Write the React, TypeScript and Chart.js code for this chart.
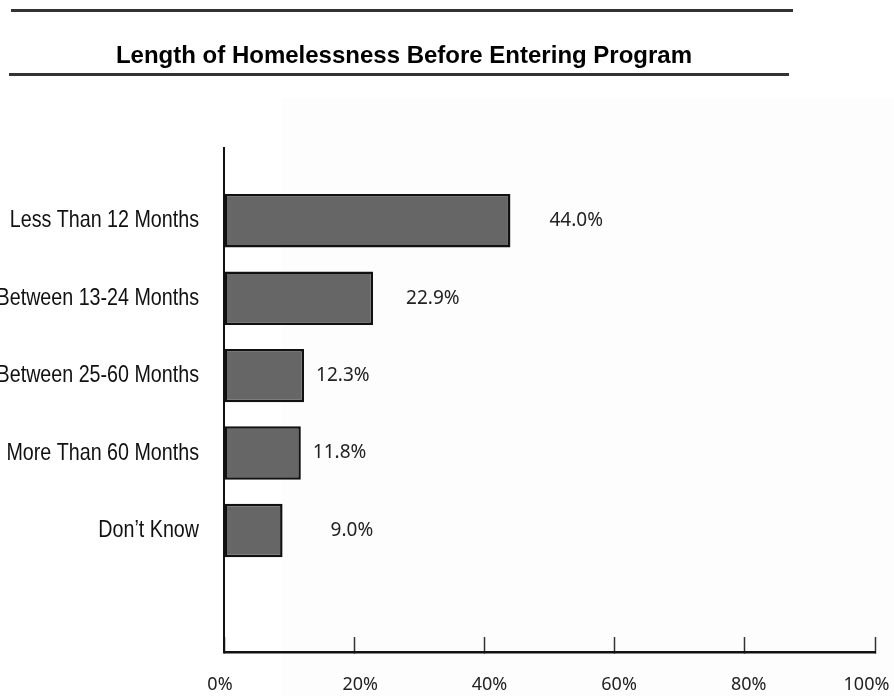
import { useEffect, useRef } from "react";
import { Chart, registerables } from "chart.js";

Chart.register(...registerables);

// ---------- data ----------
const chartTitle = "Length of Homelessness Before Entering Program";
const categories = [
  "Less Than 12 Months",
  "Between 13-24 Months",
  "Between 25-60 Months",
  "More Than 60 Months",
  "Don\u2019t Know",
];
const values = [44.0, 22.9, 12.3, 11.8, 9.0];
const valueLabels = ["44.0%", "22.9%", "12.3%", "11.8%", "9.0%"];
const xTickValues = [0, 20, 40, 60, 80, 100];
const xTickLabels = ["0%", "20%", "40%", "60%", "80%", "100%"];

// ---------- style ----------
const valueLabelGap = [39, 33, 12, 12, 48];
const xLabelShift = [-4, 6, 5, 4.5, 4, -8.5];
const labelFont = "'Liberation Sans', Arial, sans-serif";
const humanistFont = "'Noto Sans', 'Open Sans', sans-serif";

const decorPlugin = {
  id: "decor",
  beforeDraw(chart: any) {
    const ctx = chart.ctx;
    ctx.save();
    ctx.fillStyle = "#fdfdfd";
    ctx.fillRect(282, 98, 612, 598);
    ctx.strokeStyle = "#333333";
    ctx.lineWidth = 3;
    ctx.beginPath();
    ctx.moveTo(11, 10.5);
    ctx.lineTo(793, 10.5);
    ctx.stroke();
    ctx.beginPath();
    ctx.moveTo(9, 74.5);
    ctx.lineTo(789, 74.5);
    ctx.stroke();
    ctx.fillStyle = "#000000";
    ctx.font = `bold 24px ${labelFont}`;
    ctx.textAlign = "center";
    ctx.textBaseline = "alphabetic";
    ctx.fillText(chartTitle, 404, 63);
    ctx.restore();
  },
  afterDraw(chart: any) {
    const ctx = chart.ctx;
    const yScale = chart.scales.y;
    const xScale = chart.scales.x;
    ctx.save();
    // category labels (condensed)
    ctx.fillStyle = "#111111";
    ctx.font = `24px ${labelFont}`;
    ctx.textAlign = "right";
    ctx.textBaseline = "middle";
    categories.forEach((c, i) => {
      const y = yScale.getPixelForValue(i + 1);
      ctx.save();
      ctx.translate(yScale.right - 25, y);
      ctx.scale(0.82, 1);
      ctx.fillText(c, 0, 0);
      ctx.restore();
    });
    // x tick labels
    ctx.fillStyle = "#222222";
    ctx.font = `18px ${humanistFont}`;
    ctx.textAlign = "center";
    ctx.textBaseline = "middle";
    xTickValues.forEach((v, i) => {
      ctx.fillText(xTickLabels[i], xScale.getPixelForValue(v) + xLabelShift[i], xScale.top + 33);
    });
    ctx.restore();
  },
  afterDatasetsDraw(chart: any) {
    const ctx = chart.ctx;
    const meta = chart.getDatasetMeta(0);
    ctx.save();
    ctx.fillStyle = "#222222";
    ctx.font = `19px ${humanistFont}`;
    ctx.textAlign = "left";
    ctx.textBaseline = "middle";
    meta.data.forEach((el: any, i: number) => {
      ctx.fillText(valueLabels[i], el.x + valueLabelGap[i], el.y);
    });
    ctx.restore();
  },
};

export default function App() {
  const ref = useRef<HTMLCanvasElement | null>(null);

  useEffect(() => {
    if (!ref.current) return;
    const chart = new Chart(ref.current, {
      type: "bar",
      data: {
        datasets: [
          {
            data: values.map((v, i) => ({ x: v, y: i + 1 })),
            backgroundColor: "#666666",
            borderColor: "#111111",
            borderWidth: 2.5,
            borderSkipped: false,
            categoryPercentage: 1,
            barPercentage: 0.69,
          },
        ],
      },
      options: {
        indexAxis: "y",
        responsive: false,
        animation: false,
        layout: { padding: { top: 148, right: 19, bottom: 0, left: 0 } },
        plugins: {
          legend: { display: false },
          tooltip: { enabled: false },
          title: { display: false },
        },
        scales: {
          x: {
            type: "linear",
            position: "bottom",
            min: 0,
            max: 100,
            offset: false,
            afterBuildTicks: (axis: any) => {
              axis.ticks = xTickValues.map((v) => ({ value: v }));
            },
            afterFit: (axis: any) => {
              axis.height = 44;
              axis.paddingLeft = 0;
              axis.paddingRight = 0;
            },
            ticks: { display: false },
            grid: {
              drawOnChartArea: false,
              drawTicks: true,
              tickLength: -15,
              tickColor: "#333333",
              tickWidth: 1.5,
            },
            border: { display: true, color: "#111111", width: 2.5 },
          },
          y: {
            type: "linear",
            position: "left",
            reverse: true,
            offset: false,
            min: 0.06,
            max: 6.57,
            afterBuildTicks: (axis: any) => {
              axis.ticks = categories.map((_, i) => ({ value: i + 1 }));
            },
            afterFit: (axis: any) => {
              axis.width = 224;
              axis.paddingTop = 0;
              axis.paddingBottom = 0;
            },
            ticks: { display: false },
            grid: { display: false, drawTicks: false },
            border: { display: true, color: "#111111", width: 2 },
          },
        },
      },
      plugins: [decorPlugin],
    } as any);
    return () => chart.destroy();
  }, []);

  return (
    <div style={{ position: "fixed", left: 0, top: 0, width: 894, height: 696, background: "#ffffff" }}>
      <canvas ref={ref} width={894} height={696} style={{ width: 894, height: 696, display: "block" }} />
    </div>
  );
}
